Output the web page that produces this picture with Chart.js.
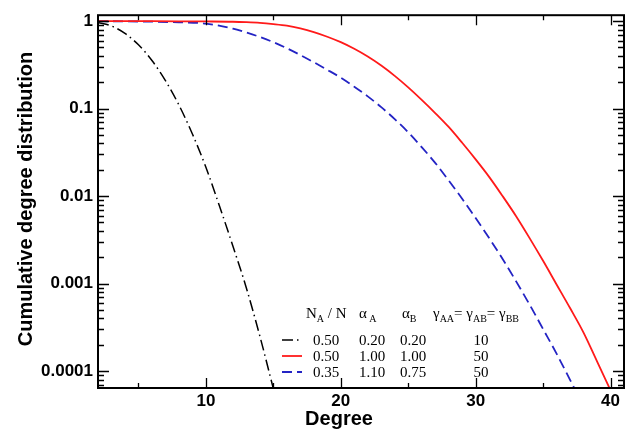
<!DOCTYPE html>
<html><head><meta charset="utf-8">
<script src="https://cdn.jsdelivr.net/npm/chart.js@4"></script>
<style>html,body{margin:0;padding:0;background:#fff}#wrap{width:626px;height:433px}</style>
</head><body><div id="wrap"><canvas id="c" width="626" height="433"></canvas></div>
<script>
// ---- data ----
const degreesBlack = [2,3,4,5,6,7,8,9,10,11,12,13,14,15];
const cdfBlack = [0.966,0.881,0.724,0.537,0.355,0.209,0.110,0.0513,0.0214,0.00776,0.00269,0.000891,0.000251,0.0000631];

const degreesRed = [2,4,6,8,10,12,13,14,15,16,17,18,19,20,21,22,23,24,25,26,27,28,29,30,31,32,33,34,35,36,37,38,39,40];
const cdfRed = [1.0,1.0,0.999,0.997,0.993,0.985,0.973,0.955,0.925,0.887,0.826,0.75,0.664,0.575,0.483,0.394,0.311,0.237,0.175,0.126,0.0891,0.0617,0.0407,0.0263,0.0166,0.0100,0.00589,0.00331,0.00182,0.000977,0.000525,0.000275,0.000129,0.0000603];

const degreesBlue = [2,4,6,8,10,12,13,14,15,16,17,18,19,20,21,22,23,24,25,26,27,28,29,30,31,32,33,34,35,36,37,38];
const cdfBlue = [1.0,0.995,0.986,0.97,0.938,0.822,0.741,0.66,0.575,0.49,0.41,0.339,0.278,0.226,0.178,0.138,0.104,0.0759,0.0537,0.0363,0.0240,0.0151,0.00933,0.00562,0.00331,0.00191,0.00106,0.000575,0.000302,0.000158,0.0000794,0.0000398];

const xTicks = [10,20,30,40];
const xMinorTicks = [5,15,25,35];
const yTicks = [1,0.1,0.01,0.001,0.0001];
const yTickLabels = ['1','0.1','0.01','0.001','0.0001'];
const yMinorTicks = [];
[0.0001,0.001,0.01,0.1].forEach(d=>{for(let k=2;k<=9;k++) yMinorTicks.push(+(d*k).toPrecision(3));});
yMinorTicks.push(0.00007,0.00008,0.00009);

const xTitle = 'Degree';
const yTitle = 'Cumulative degree distribution';
const legendRows = [
  ['0.50','0.20','0.20','10'],
  ['0.50','1.00','1.00','50'],
  ['0.35','1.10','0.75','50']
];

const toPts = (xs, ys) => xs.map((x,i)=>({x:x, y:ys[i]}));

const SANS = '"Liberation Sans", Arial, sans-serif';
const SERIF = '"Liberation Serif", "Times New Roman", serif';

const decorPlugin = {
  id: 'decor',
  afterDraw(chart) {
    const ctx = chart.ctx;
    const a = chart.chartArea;
    const xs = chart.scales.x, ys = chart.scales.y;
    ctx.save();
    ctx.strokeStyle = '#000';
    // ticks (inward), both sides
    ctx.lineWidth = 1.3;
    ctx.beginPath();
    const xt = (v, len) => { const p = Math.round(xs.getPixelForValue(v)) + 0.5; ctx.moveTo(p, a.bottom); ctx.lineTo(p, a.bottom - len); ctx.moveTo(p, a.top); ctx.lineTo(p, a.top + len); };
    const yt = (v, len) => { const p = Math.round(ys.getPixelForValue(v)) + 0.5; ctx.moveTo(a.left, p); ctx.lineTo(a.left + len, p); ctx.moveTo(a.right, p); ctx.lineTo(a.right - len, p); };
    xTicks.forEach(v => xt(v, 10));
    xMinorTicks.forEach(v => xt(v, 5));
    yTicks.forEach(v => yt(v, 11));
    yMinorTicks.forEach(v => { if (v > ys.min && v < ys.max) yt(v, 6); });
    ctx.stroke();
    // frame
    ctx.lineWidth = 2;
    ctx.strokeRect(a.left, a.top, a.right - a.left, a.bottom - a.top);

    // axis titles
    ctx.fillStyle = '#000';
    ctx.font = 'bold 20px ' + SANS;
    ctx.textAlign = 'center';
    ctx.textBaseline = 'alphabetic';
    ctx.fillText(xTitle, 339, 425);
    ctx.save();
    ctx.translate(32, 199);
    ctx.rotate(-Math.PI / 2);
    ctx.fillText(yTitle, 0, 0);
    ctx.restore();

    // legend table
    const big = '15px ' + SERIF, small = '10px ' + SERIF;
    ctx.textAlign = 'left';
    const seq = (x, y, parts) => {
      parts.forEach(p => {
        ctx.font = p[1] ? small : big;
        const yy = p[1] ? y + 4 : y;
        ctx.fillText(p[0], x, yy);
        x += ctx.measureText(p[0]).width;
      });
    };
    const hy = 318;
    seq(306, hy, [['N',0],['A',1],[' / N',0]]);
    seq(359, hy, [['\u03B1',0],[' A',1]]);
    seq(402, hy, [['\u03B1',0],['B',1]]);
    seq(433, hy, [['\u03B3',0],['AA',1],['= ',0],['\u03B3',0],['AB',1],['= ',0],['\u03B3',0],['BB',1]]);

    const rowY = [345, 361, 377];
    chart.data.datasets.forEach((ds, i) => {
      const y = rowY[i];
      ctx.save();
      ctx.strokeStyle = ds.borderColor;
      ctx.lineWidth = ds.borderWidth;
      ctx.setLineDash(ds.borderDash || []);
      ctx.beginPath();
      ctx.moveTo(282, y - 5);
      ctx.lineTo(302, y - 5);
      ctx.stroke();
      ctx.restore();
      ctx.font = big;
      ctx.textAlign = 'left';
      const r = legendRows[i];
      ctx.fillText(r[0], 313, y);
      ctx.fillText(r[1], 359, y);
      ctx.fillText(r[2], 400, y);
      ctx.textAlign = 'center';
      ctx.fillText(r[3], 481, y);
      ctx.textAlign = 'left';
    });
    ctx.restore();
  }
};

new Chart(document.getElementById('c'), {
  type: 'line',
  data: {
    datasets: [
      { data: toPts(degreesBlack, cdfBlack), borderColor: '#000000', borderWidth: 1.5, borderDash: [11,4,1.5,4], pointRadius: 0, cubicInterpolationMode: 'monotone', fill: false },
      { data: toPts(degreesRed, cdfRed), borderColor: '#ff1a1a', borderWidth: 1.8, pointRadius: 0, cubicInterpolationMode: 'monotone', fill: false },
      { data: toPts(degreesBlue, cdfBlue), borderColor: '#2424c4', borderWidth: 1.8, borderDash: [10,5], pointRadius: 0, cubicInterpolationMode: 'monotone', fill: false }
    ]
  },
  options: {
    responsive: false,
    animation: false,
    devicePixelRatio: 1,
    layout: { padding: { top: 13, right: 2, left: 0, bottom: 0 } },
    plugins: { legend: { display: false }, tooltip: { enabled: false } },
    scales: {
      x: {
        type: 'linear', min: 2, max: 41,
        afterBuildTicks: s => { s.ticks = xTicks.map(v => ({ value: v })); },
        afterFit: s => { s.height = 45; },
        grid: { display: false, drawTicks: false },
        border: { display: false },
        ticks: { color: '#000', font: { family: SANS, weight: 'bold', size: 17 }, padding: 3, maxRotation: 0, autoSkip: false,
                 callback: v => String(v) }
      },
      y: {
        type: 'logarithmic', min: 0.000064, max: 1.17,
        afterBuildTicks: s => { s.ticks = yTicks.map(v => ({ value: v })); },
        afterFit: s => { s.width = 98; },
        grid: { display: false, drawTicks: false },
        border: { display: false },
        ticks: { color: '#000', font: { family: SANS, weight: 'bold', size: 17 }, padding: 5, autoSkip: false,
                 callback: v => { const i = yTicks.findIndex(t => Math.abs(t - v) / t < 1e-6); return i >= 0 ? yTickLabels[i] : ''; } }
      }
    }
  },
  plugins: [decorPlugin]
});
</script>
</body></html>
